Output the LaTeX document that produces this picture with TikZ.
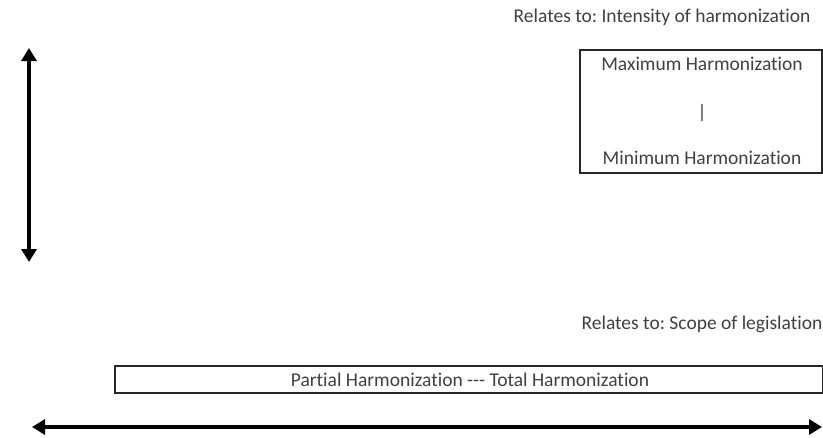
\documentclass[tikz,border=0pt]{standalone}
\usepackage{fontspec}
\setmainfont[Ligatures={NoCommon}]{Carlito}
\usetikzlibrary{arrows.meta,positioning}
\frenchspacing

\begin{document}
\begin{tikzpicture}%
  [x=1pt, y=-1pt,
   font=\fontsize{19.5}{22}\selectfont,
   txt/.style={text=black!75, inner sep=0pt},
   box/.style={draw=black!85, line width=2pt, inner sep=0pt},
   dbl/.style={{Triangle[length=13pt,width=15pt]}-{Triangle[length=13pt,width=15pt]}, line width=4.5pt}
  ]
\useasboundingbox (0,0) rectangle (823,437);

% vertical axis: intensity
\node[txt] (intlabel) at (662,17) {Relates to: Intensity of harmonization};
\node[box, minimum width=242pt, minimum height=123pt] (intbox) at (701,111) {};
\node[txt] (maxh) at (702,64) {Maximum Harmonization};
\node[txt] (bar)  at (702,113) {|};
\node[txt] (minh) at (702,158) {Minimum Harmonization};
\coordinate (vtop) at (29,48);
\coordinate (vbot) at (29,262);
\draw[dbl] (vtop) -- (vbot);

% horizontal axis: scope
\node[txt] (scopelabel) at (702,324) {Relates to: Scope of legislation};
\node[box, minimum width=708pt, minimum height=27pt] (scopebox) at (469,379) {};
\node[txt] (parttot) at (470,380) {Partial Harmonization -{}-{}- Total Harmonization};
\coordinate (hleft)  at (32,427);
\coordinate (hright) at (822,427);
\draw[dbl] (hleft) -- (hright);
\end{tikzpicture}
\end{document}
